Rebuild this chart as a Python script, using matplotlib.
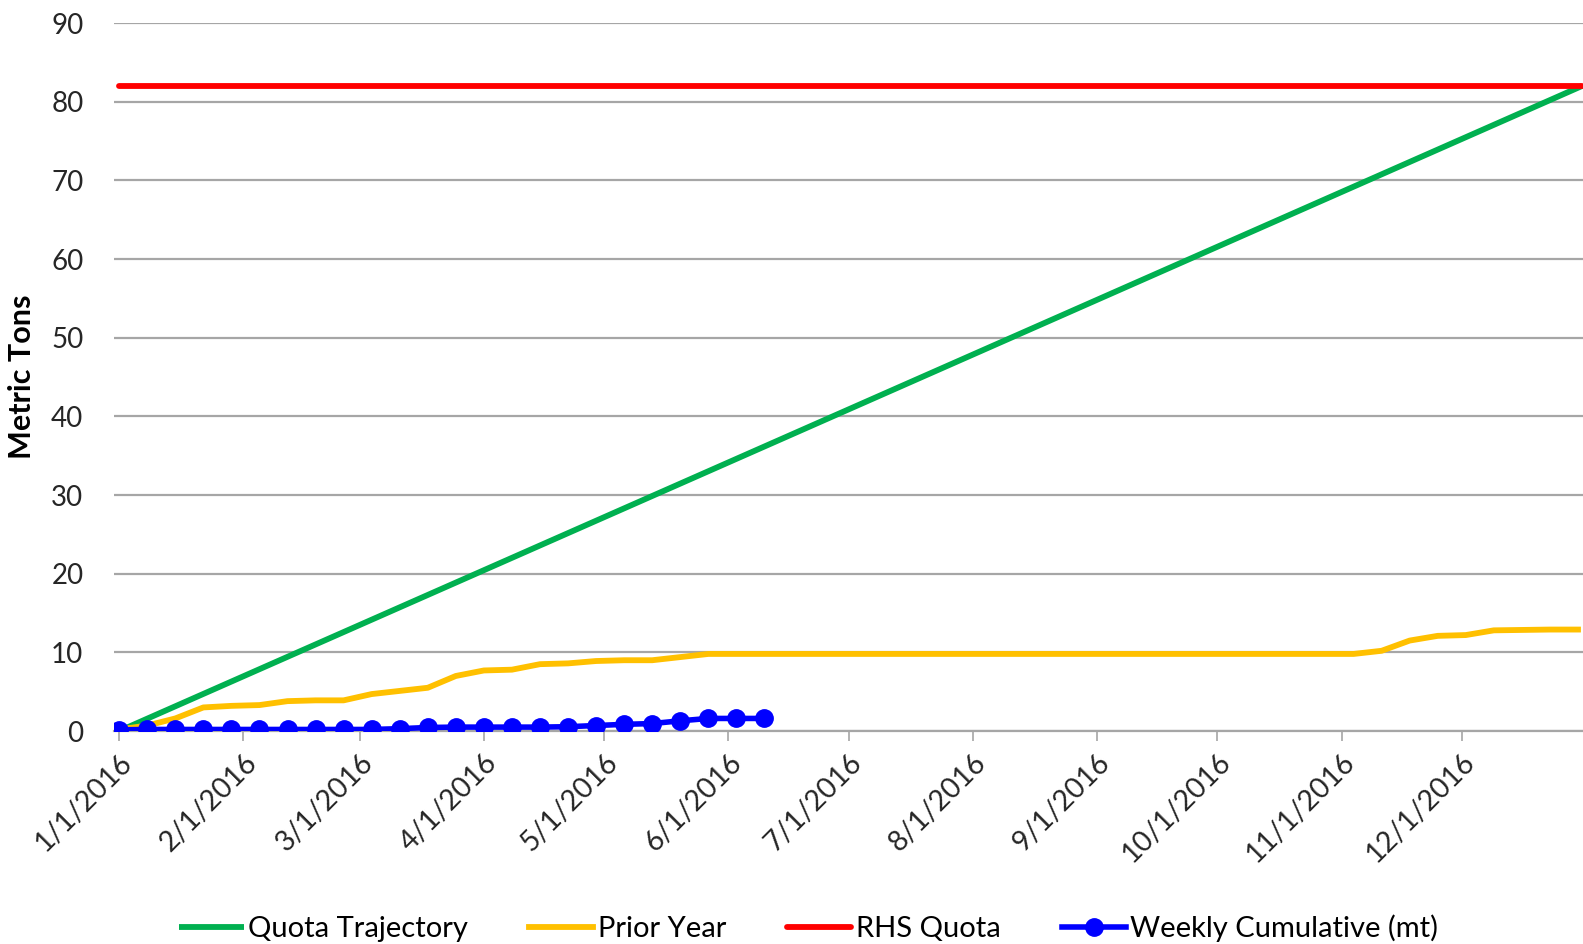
"""Quota tracking chart: quota trajectory, prior year, RHS quota and weekly cumulative."""

import matplotlib
matplotlib.use("Agg")
import matplotlib.pyplot as plt
import matplotlib.dates as mdates
import matplotlib.transforms as mtransforms
import pandas as pd

matplotlib.rcParams.update(
    {
        "font.family": ["Lato", "DejaVu Sans"],
        "axes.unicode_minus": False,
    }
)

# --------------------------------------------------------------------------- #
#  Data
# --------------------------------------------------------------------------- #
QUOTA = 82.0

trajectory_dates = pd.to_datetime(["2016-01-01", "2016-12-31"])
trajectory_vals = [0.0, QUOTA]

quota_dates = pd.to_datetime(["2016-01-01", "2016-12-31"])
quota_vals = [QUOTA, QUOTA]

prior_dates = pd.date_range("2016-01-01", periods=53, freq="7D")
prior_vals = [
    0.2, 0.7, 1.6, 3.0, 3.2, 3.3, 3.8, 3.9, 3.9, 4.7,
    5.1, 5.5, 7.0, 7.7, 7.8, 8.5, 8.6, 8.9, 9.0, 9.0,
    9.4, 9.8, 9.8, 9.8, 9.8, 9.8, 9.8, 9.8, 9.8, 9.8,
    9.8, 9.8, 9.8, 9.8, 9.8, 9.8, 9.8, 9.8, 9.8, 9.8,
    9.8, 9.8, 9.8, 9.8, 9.8, 10.2, 11.5, 12.1, 12.2, 12.8,
    12.85, 12.9, 12.9,
]

weekly_dates = pd.date_range("2016-01-01", periods=24, freq="7D")
weekly_vals = [
    0.15, 0.2, 0.2, 0.2, 0.2, 0.2, 0.2, 0.2, 0.2, 0.2,
    0.3, 0.45, 0.5, 0.5, 0.5, 0.5, 0.55, 0.7, 0.85, 0.95,
    1.3, 1.6, 1.6, 1.6,
]

month_ticks = pd.date_range("2016-01-01", periods=12, freq="MS")

GREEN = "#00B050"
GOLD = "#FFC000"
RED = "#FF0000"
BLUE = "#0000FF"
GRID = "#A6A6A6"
TEXT = "#262626"


# --------------------------------------------------------------------------- #
#  Figure
# --------------------------------------------------------------------------- #
def build_figure():
    fig = plt.figure(figsize=(15.83, 9.44), dpi=100)
    ax = fig.add_axes([0.072, 0.2256, 0.928, 0.75])

    ax.plot(trajectory_dates, trajectory_vals, color=GREEN, lw=4.2,
            label="Quota Trajectory", solid_capstyle="butt", zorder=3)
    ax.plot(prior_dates, prior_vals, color=GOLD, lw=4.2,
            label="Prior Year", solid_joinstyle="round", zorder=3)
    ax.plot(quota_dates, quota_vals, color=RED, lw=4.2,
            label="RHS Quota", solid_capstyle="round", zorder=3)
    ax.plot(weekly_dates, weekly_vals, color=BLUE, lw=4.0, marker="o",
            markersize=12.5, label="Weekly Cumulative (mt)", zorder=4)

    ax.set_ylim(0, 90)
    ax.set_yticks(range(0, 91, 10))
    ax.set_xlim(pd.Timestamp("2016-01-01") - pd.Timedelta(days=1.3),
                pd.Timestamp("2016-12-31") + pd.Timedelta(hours=6))

    ax.set_xticks(month_ticks)
    ax.xaxis.set_major_formatter(
        matplotlib.ticker.FuncFormatter(
            lambda v, _: "{d.month}/{d.day}/{d.year}".format(d=mdates.num2date(v))
        )
    )
    shift = mtransforms.ScaledTranslation(-6 / 100, -3 / 100, fig.dpi_scale_trans)
    for lbl in ax.get_xticklabels():
        lbl.set_rotation(45)
        lbl.set_ha("right")
        lbl.set_rotation_mode("anchor")
        lbl.set_transform(lbl.get_transform() + shift)

    ax.grid(axis="y", color=GRID, lw=1.6)
    ax.set_axisbelow(True)
    for side in ("top", "right", "left"):
        ax.spines[side].set_visible(False)
    ax.spines["bottom"].set_color(GRID)
    ax.spines["bottom"].set_linewidth(1.6)

    ax.tick_params(axis="y", length=0, pad=22, labelsize=20, labelcolor=TEXT)
    ax.tick_params(axis="x", length=7, width=1.2, color=GRID, pad=6,
                   labelsize=20.5, labelcolor=TEXT)

    ax.set_ylabel("Metric Tons", fontsize=22, fontweight="bold", color="black")
    ax.yaxis.set_label_coords(-0.053, 0.5)

    fig.legend(
        loc="center", bbox_to_anchor=(0.511, 0.017), ncol=4, frameon=False,
        fontsize=21, handlelength=2.2, handletextpad=0.15, columnspacing=2.1,
        labelcolor="black",
    )
    return fig


def main():
    fig = build_figure()
    fig.savefig("out.png", dpi=100)
    plt.close(fig)


if __name__ == "__main__":
    main()
